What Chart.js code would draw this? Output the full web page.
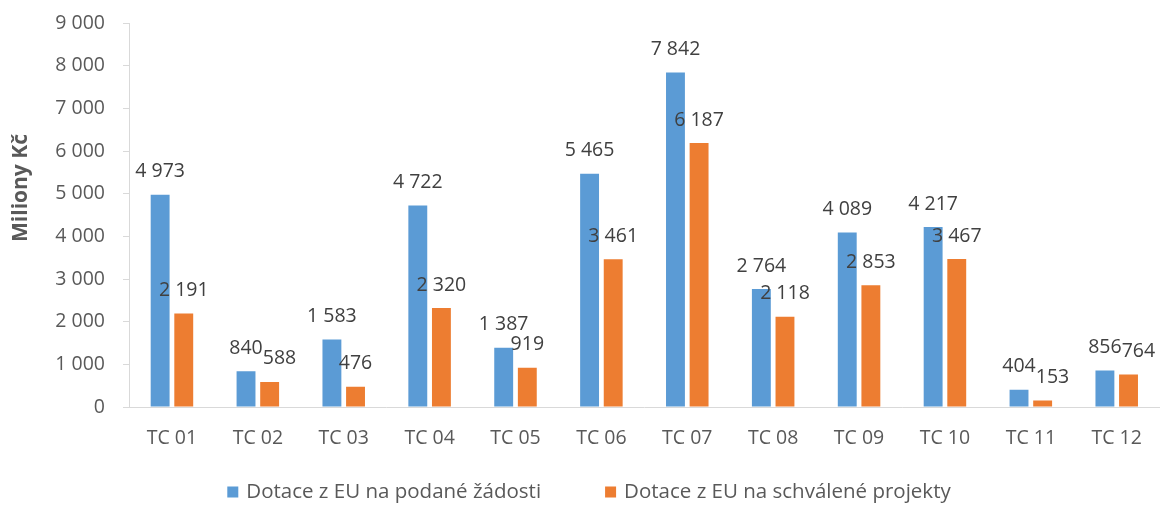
<!DOCTYPE html>
<html>
<head>
<meta charset="utf-8">
<script src="https://cdn.jsdelivr.net/npm/chart.js@4/dist/chart.umd.min.js"></script>
<style>
html,body{margin:0;padding:0;background:#fff;}
canvas{display:block;}
</style>
</head>
<body>
<canvas id="c" width="1162" height="505"></canvas>
<script>
const categories = ['TC 01','TC 02','TC 03','TC 04','TC 05','TC 06','TC 07','TC 08','TC 09','TC 10','TC 11','TC 12'];
const seriesNames = ['Dotace z EU na podané žádosti', 'Dotace z EU na schválené projekty'];
const submitted = [4973, 840, 1583, 4722, 1387, 5465, 7842, 2764, 4089, 4217, 404, 856];
const approved = [2191, 588, 476, 2320, 919, 3461, 6187, 2118, 2853, 3467, 153, 764];
const yTitle = 'Miliony Kč';

const FONT = '"Open Sans", "Liberation Sans", sans-serif';
const fmt = v => String(Math.round(v)).replace(/\B(?=(\d{3})+(?!\d))/g, ' ');
const colors = ['#5B9BD5', '#ED7D31'];

const customPlugin = {
  id: 'custom',
  afterDatasetsDraw(chart) {
    const ctx = chart.ctx;
    ctx.save();
    ctx.font = '19.5px ' + FONT;
    ctx.fillStyle = '#404040';
    ctx.textAlign = 'center';
    ctx.textBaseline = 'middle';
    const m0 = chart.getDatasetMeta(0).data, m1 = chart.getDatasetMeta(1).data;
    const ds = chart.data.datasets;
    m0.forEach((b0, j) => {
      const b1 = m1[j];
      const t0 = fmt(ds[0].data[j]), t1 = fmt(ds[1].data[j]);
      const w0 = ctx.measureText(t0).width, w1 = ctx.measureText(t1).width;
      const x0 = b0.x, y0 = b0.y - 23;
      let x1 = b1.x; const y1 = b1.y - 23;
      if (Math.abs(y1 - y0) < 14) {
        const ov = (x0 + w0 / 2) - (x1 - w1 / 2);
        if (ov > 0) x1 += ov;
      }
      ctx.fillText(t0, x0, y0);
      ctx.fillText(t1, x1, y1);
    });
    ctx.restore();
  },
  afterDraw(chart) {
    const ctx = chart.ctx;
    ctx.save();
    ctx.translate(21, 188);
    ctx.rotate(-Math.PI / 2);
    ctx.font = 'bold 21px ' + FONT;
    ctx.fillStyle = '#595959';
    ctx.textAlign = 'center';
    ctx.textBaseline = 'middle';
    ctx.fillText(yTitle, 0, 0);
    ctx.restore();
    ctx.save();
    ctx.font = '20.5px ' + FONT;
    ctx.textBaseline = 'middle';
    const box = 11, gap = 8, spacing = 64;
    const w = seriesNames.map(n => ctx.measureText(n).width);
    const total = box + gap + w[0] + spacing + box + gap + w[1];
    let x = 589 - total / 2;
    const y = 492;
    seriesNames.forEach((n, i) => {
      ctx.fillStyle = colors[i];
      ctx.fillRect(x, y - box / 2, box, box);
      x += box + gap;
      ctx.fillStyle = '#595959';
      ctx.fillText(n, x, y);
      x += w[i] + spacing;
    });
    ctx.restore();
  }
};

new Chart(document.getElementById('c'), {
  type: 'bar',
  data: {
    labels: categories,
    datasets: [
      { label: seriesNames[0], data: submitted, backgroundColor: colors[0], categoryPercentage: 0.55, barPercentage: 0.8 },
      { label: seriesNames[1], data: approved, backgroundColor: colors[1], categoryPercentage: 0.55, barPercentage: 0.8 }
    ]
  },
  options: {
    responsive: false,
    animation: false,
    devicePixelRatio: 1,
    layout: { padding: { top: 23, right: 2, bottom: 48, left: 0 } },
    plugins: { legend: { display: false }, tooltip: { enabled: false } },
    scales: {
      x: {
        grid: { display: false, drawTicks: false },
        border: { display: true, color: '#d9d9d9', width: 1 },
        ticks: { font: { family: FONT, size: 19.5 }, color: '#595959', padding: 20, maxRotation: 0 },
        afterFit(scale) { scale.height = 50; }
      },
      y: {
        min: 0, max: 9000,
        grid: { display: true, drawOnChartArea: false, drawTicks: true, tickLength: 6, color: '#d9d9d9' },
        border: { display: true, color: '#d9d9d9', width: 1 },
        ticks: { stepSize: 1000, font: { family: FONT, size: 19.5 }, color: '#595959', padding: 18, callback: v => fmt(v) },
        afterFit(scale) { scale.width = 129; scale.paddingTop = 0; scale.paddingBottom = 0; }
      }
    }
  },
  plugins: [customPlugin]
});
</script>
</body>
</html>
